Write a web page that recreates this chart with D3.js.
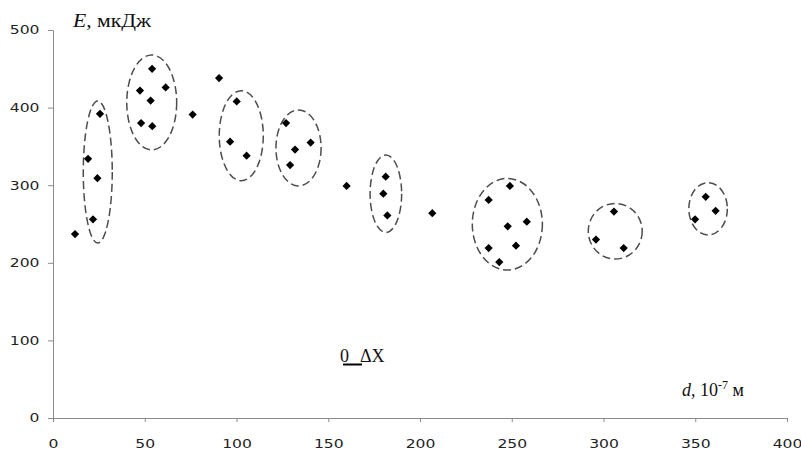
<!DOCTYPE html>
<html>
<head>
<meta charset="utf-8">
<script src="https://cdnjs.cloudflare.com/ajax/libs/d3/7.8.5/d3.min.js"></script>
<style>
  body { margin: 0; background: #fff; }
  .tick text { font-family: "DejaVu Sans", Verdana, sans-serif; font-size: 12px; fill: #222; }
  .serif { font-family: "Liberation Serif", "Times New Roman", serif; fill: #111; }
</style>
</head>
<body>
<div id="container"></div>
<script>
// measured points: d (10^-7 m) and E (mkJ)
const dValues = [12, 19.1, 21.8, 24.2, 25.6,
                 47.4, 48, 53.2, 54, 54.1, 61.4,
                 76.1, 90.5,
                 96.5, 100.1, 105.5,
                 127, 129.2, 131.9, 140.4,
                 160,
                 180, 181.3, 182.2,
                 206.7,
                 237.4, 237.4, 243.2, 247.8, 249, 252.3, 258.2,
                 295.9, 305.7, 311,
                 349.9, 355.7, 361.1];
const eValues = [237, 334, 256, 309, 392,
                 422, 380, 409, 450, 376, 426,
                 391, 438,
                 356, 408, 338,
                 380, 326, 346, 355,
                 299,
                 289, 311, 261,
                 264,
                 281, 219, 201, 247, 299, 222, 253,
                 230, 266, 219,
                 256, 285, 267];

// dashed groups (centre and radii in data units)
const groupCx = [24.4, 53.8, 102.6, 133.8, 181.4, 247.6, 306.4, 357];
const groupCy = [317, 406.6, 363.8, 348, 289, 249.7, 240.7, 269.6];
const groupRx = [7.9, 13.6, 12, 12.3, 8.6, 19.1, 14.7, 10.5];
const groupRy = [91.5, 61.2, 58, 49, 49.9, 59, 35.8, 33.7];

const xTicks = [0, 50, 100, 150, 200, 250, 300, 350, 400];
const yTicks = [0, 100, 200, 300, 400, 500];

const w = 801;
const h = 451;

const xScale = d3.scaleLinear().domain([0, 400]).range([53, 787]);
const yScale = d3.scaleLinear().domain([0, 500]).range([418, 30]);

const svg = d3.select("#container")
              .append("svg")
              .attr("width", w)
              .attr("height", h);

// axes
const xAxis = d3.axisBottom(xScale)
                .tickValues(xTicks)
                .tickSize(4)
                .tickSizeOuter(0)
                .tickPadding(17);
const yAxis = d3.axisLeft(yScale)
                .tickValues(yTicks)
                .tickSize(5)
                .tickSizeOuter(0)
                .tickPadding(9);

const gx = svg.append("g")
   .attr("transform", "translate(0," + yScale(0) + ")")
   .call(xAxis);
const gy = svg.append("g")
   .attr("transform", "translate(" + xScale(0) + ",0)")
   .call(yAxis);

[gx, gy].forEach(function(g){
    g.select(".domain").attr("stroke", "#8a8a8a");
    g.selectAll(".tick line").attr("stroke", "#8a8a8a");
    // the picture's labels are stretched sideways
    g.selectAll(".tick text").attr("transform", "scale(1.3,1)");
});
gy.selectAll(".tick text").attr("x", -10.4);

// groups
const groups = groupCx.map(function(cx, i){
    return {cx: cx, cy: groupCy[i], rx: groupRx[i], ry: groupRy[i]};
});
svg.selectAll("ellipse")
   .data(groups)
   .enter()
   .append("ellipse")
   .attr("cx", (d) => xScale(d.cx))
   .attr("cy", (d) => yScale(d.cy))
   .attr("rx", (d) => xScale(d.rx) - xScale(0))
   .attr("ry", (d) => yScale(0) - yScale(d.ry))
   .attr("fill", "none")
   .attr("stroke", "#4d4d4d")
   .attr("stroke-width", 1.5)
   .attr("stroke-dasharray", "8,4");

// points
const points = dValues.map((d, i) => ({d: d, e: eValues[i]}));
const diamond = d3.symbol().type(d3.symbolSquare).size(34);
svg.selectAll(".pt")
   .data(points)
   .enter()
   .append("path")
   .attr("class", "pt")
   .attr("d", diamond)
   .attr("transform", (d) => "translate(" + xScale(d.d) + "," + yScale(d.e) + ") rotate(45)")
   .attr("fill", "#000");

// axis titles
const yTitle = svg.append("text")
   .attr("class", "serif")
   .attr("x", 73)
   .attr("y", 27)
   .style("font-size", "18px")
   .attr("textLength", 78)
   .attr("lengthAdjust", "spacingAndGlyphs");
yTitle.append("tspan").style("font-style", "italic").text("E");
yTitle.append("tspan").text(", мкДж");

const xTitle = svg.append("text")
   .attr("class", "serif")
   .attr("x", 682)
   .attr("y", 396)
   .style("font-size", "18px");
xTitle.append("tspan").style("font-style", "italic").text("d");
xTitle.append("tspan").text(", 10");
xTitle.append("tspan").attr("dy", -7).style("font-size", "12px").text("-7");
xTitle.append("tspan").attr("dy", 7).text(" м");

// scale mark
svg.append("text")
   .attr("class", "serif")
   .attr("x", 340)
   .attr("y", 362)
   .style("font-size", "18px")
   .text("0");
svg.append("line")
   .attr("x1", 343).attr("x2", 362)
   .attr("y1", 364.5).attr("y2", 364.5)
   .attr("stroke", "#000")
   .attr("stroke-width", 2);
svg.append("text")
   .attr("class", "serif")
   .attr("x", 360)
   .attr("y", 362)
   .style("font-size", "18px")
   .text("ΔX");
</script>
</body>
</html>
